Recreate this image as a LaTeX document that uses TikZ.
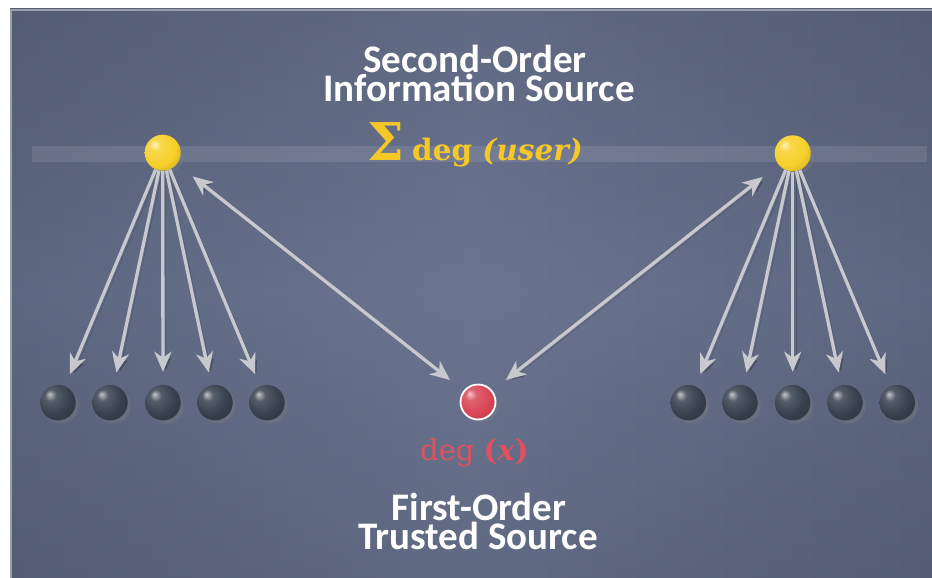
\documentclass[tikz,border=0pt]{standalone}
\usepackage{fontspec}
\setmainfont{DejaVu Serif}
\newfontfamily\hfont{Carlito}
\usetikzlibrary{arrows.meta,shadows}

\definecolor{bgmid}{HTML}{6B7590}
\definecolor{bgedge}{HTML}{566078}
\definecolor{bgtop}{HTML}{4E566B}
\definecolor{frameline}{HTML}{9AA0AA}
\definecolor{arrowgray}{HTML}{C8C9CE}
\definecolor{ytext}{HTML}{F5C828}
\definecolor{rtext}{HTML}{E0505F}
\definecolor{yball}{HTML}{F7D02A}
\definecolor{rball}{HTML}{D94556}
\definecolor{kball}{HTML}{36404E}
\colorlet{ballbase}{yball}

\pgfdeclareradialshading[ballbase]{myball}{\pgfpoint{-12bp}{12bp}}{%
  color(0bp)=(ballbase!30!white); color(8bp)=(ballbase!85!white);
  color(24bp)=(ballbase); color(40bp)=(ballbase!82!black);
  color(60bp)=(ballbase!65!black)}

\tikzset{
  sphere/.style={circle, minimum size=36pt, inner sep=0pt, shading=myball,
    drop shadow={shadow xshift=3pt, shadow yshift=-3pt, opacity=0.35}},
  ysphere/.style={sphere, /utils/exec={\colorlet{ballbase}{yball}}},
  ksphere/.style={sphere, minimum size=35.5pt, /utils/exec={\colorlet{ballbase}{kball}}},
  rsphere/.style={sphere, minimum size=35pt, draw=white, line width=1.8pt,
    /utils/exec={\colorlet{ballbase}{rball}}},
  conn/.style={draw=arrowgray, line width=3.3pt, -{Stealth[length=20pt,width=17pt,inset=6pt]},
    preaction={draw=black, opacity=0.2, transform canvas={shift={(3pt,-2pt)}}}},
  dconn/.style={conn, {Stealth[length=20pt,width=17pt,inset=6pt]}-{Stealth[length=20pt,width=17pt,inset=6pt]}},
  htext/.style={font=\hfont\bfseries\fontsize{39}{39}\selectfont, text=white, inner sep=0pt, anchor=base},
}

\begin{document}
\begin{tikzpicture}[x=1pt, y=-1pt]
\useasboundingbox (0,0) rectangle (932,578);
% background panel
\shade[left color=bgedge, right color=bgedge, middle color=bgmid] (10,9) rectangle (932,578);
\shade[top color=bgtop, bottom color=bgtop, middle color=bgmid, opacity=0.35] (10,9) rectangle (932,578);
\draw[frameline, line width=2pt] (11,578) -- (11,10) -- (932,10);
% light band
\fill[white, opacity=0.1] (32,146) rectangle (927,162);

% balls
\node[ysphere] (yl) at (162.7,152.7) {};
\node[ysphere] (yr) at (792.7,153.3) {};
\node[rsphere] (rx) at (478,402) {};
\foreach \i/\x in {1/58,2/110,3/163,4/215,5/267}
  \node[ksphere] (kl\i) at (\x,402.7) {};
\foreach \i/\x in {1/688.3,2/740,3/792.7,4/845,5/897.3}
  \node[ksphere] (kr\i) at (\x,402.7) {};

% arrows
\foreach \i in {1,...,5} {
  \draw[conn, shorten >=13pt] (yl) -- (kl\i);
  \draw[conn, shorten >=13pt] (yr) -- (kr\i);
}
\draw[dconn, shorten <=20pt, shorten >=17pt] (yl) -- (rx);
\draw[dconn, shorten <=20pt, shorten >=17pt] (yr) -- (rx);

% texts
\node[htext] (t1) at (475,73) {Second-Order};
\node[htext] (t2) at (479,101) {Information Source};
\node[htext] (t3) at (479,520) {First-Order};
\node[htext] (t4) at (478,549) {Trusted Source};

\node[anchor=base west, inner sep=0pt, text=ytext, font=\bfseries\fontsize{52}{52}\selectfont] (sig) at (367,160) {Σ};
\node[anchor=base west, inner sep=0pt, text=ytext, font=\bfseries\fontsize{29.5}{29.5}\selectfont] (degu) at (412,160) {deg \textit{(user)}};

\node[anchor=base west, inner sep=0pt, text=rtext, font=\fontsize{29}{29}\selectfont] (degx) at (420,460) {deg \textbf{(\textit{x})}};
\end{tikzpicture}
\end{document}
